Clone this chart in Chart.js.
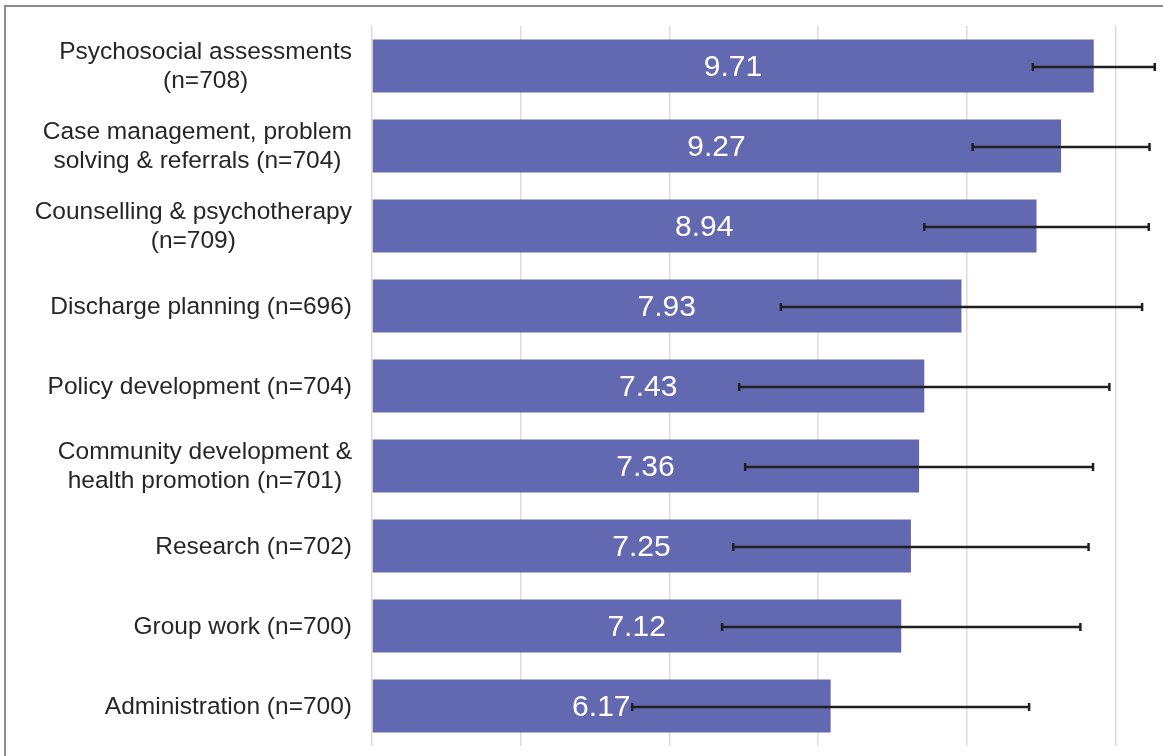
<!DOCTYPE html>
<html>
<head>
<meta charset="utf-8">
<script src="https://cdn.jsdelivr.net/npm/chart.js@4"></script>
<style>
  html, body { margin: 0; padding: 0; background: #fff; overflow: hidden; }
  body { width: 1163px; height: 756px; position: relative; }
  .frame { position: absolute; left: 4px; top: 5px; width: 1400px; height: 900px; border: 2px solid #8c8c8c; }
  .wrap { position: absolute; left: 0; top: 0; width: 1300px; height: 756px; }
</style>
</head>
<body>
<div class="frame"></div>
<div class="wrap"><canvas id="chart" width="1300" height="756"></canvas></div>
<script>
// categories (each label split into its printed lines)
const categories = [
  ["Psychosocial assessments", "(n=708)"],
  ["Case management, problem", "solving & referrals (n=704)"],
  ["Counselling & psychotherapy", "(n=709)"],
  ["Discharge planning (n=696)"],
  ["Policy development (n=704)"],
  ["Community development &", "health promotion (n=701)"],
  ["Research (n=702)"],
  ["Group work (n=700)"],
  ["Administration (n=700)"]
];
const means = [9.71, 9.27, 8.94, 7.93, 7.43, 7.36, 7.25, 7.12, 6.17];
const sds = [0.82, 1.19, 1.51, 2.43, 2.49, 2.34, 2.39, 2.41, 2.67];
const xTicks = [0, 2, 4, 6, 8, 10, 12];

const FONT = "'Liberation Sans', Arial, sans-serif";

// category labels: block right-aligned, lines centred inside the block
const labelPlugin = {
  id: "labels",
  afterDraw(chart) {
    const ctx = chart.ctx;
    const y = chart.scales.y;
    const right = 352;
    const lineH = 29;
    ctx.save();
    ctx.font = "24.5px " + FONT;
    ctx.fillStyle = "#262626";
    ctx.textAlign = "center";
    ctx.textBaseline = "middle";
    categories.forEach((lines, i) => {
      const w = Math.max(...lines.map(l => ctx.measureText(l).width));
      const cx = right - w / 2;
      const cy = y.getPixelForValue(i);
      const top = cy - (lines.length - 1) * lineH / 2;
      lines.forEach((l, j) => ctx.fillText(l, cx, top + j * lineH + 1));
    });
    ctx.restore();
  }
};

// value labels inside bars + error bars
const barPlugin = {
  id: "bars",
  afterDatasetsDraw(chart) {
    const ctx = chart.ctx;
    const x = chart.scales.x;
    const y = chart.scales.y;
    ctx.save();
    ctx.font = "30px " + FONT;
    ctx.fillStyle = "#ffffff";
    ctx.textAlign = "center";
    ctx.textBaseline = "middle";
    means.forEach((m, i) => {
      const cx = (x.getPixelForValue(0) + x.getPixelForValue(m)) / 2;
      ctx.fillText(m.toFixed(2), cx, y.getPixelForValue(i) + 2);
    });
    ctx.strokeStyle = "#1f1f1f";
    ctx.lineWidth = 2.5;
    means.forEach((m, i) => {
      const cy = y.getPixelForValue(i) + 1;
      const x1 = x.getPixelForValue(m - sds[i]);
      const x2 = x.getPixelForValue(m + sds[i]);
      ctx.beginPath();
      ctx.moveTo(x1, cy); ctx.lineTo(x2, cy);
      ctx.moveTo(x1, cy - 4); ctx.lineTo(x1, cy + 4);
      ctx.moveTo(x2, cy - 4); ctx.lineTo(x2, cy + 4);
      ctx.stroke();
    });
    ctx.restore();
  }
};

new Chart(document.getElementById("chart"), {
  type: "bar",
  data: {
    labels: categories,
    datasets: [{
      data: means,
      backgroundColor: "#6369b0",
      borderWidth: 0,
      categoryPercentage: 0.66,
      barPercentage: 1
    }]
  },
  options: {
    indexAxis: "y",
    responsive: false,
    animation: false,
    layout: { padding: { left: 372, top: 26, right: 36, bottom: 10 } },
    plugins: { legend: { display: false }, tooltip: { enabled: false } },
    scales: {
      x: {
        min: xTicks[0],
        max: xTicks[xTicks.length - 1],
        afterBuildTicks: s => { s.ticks = xTicks.map(v => ({ value: v })); },
        ticks: { display: false },
        grid: { color: "#dcdcdc", lineWidth: 1.5, drawTicks: false },
        border: { display: false },
        afterFit: s => { s.height = 0; }
      },
      y: { display: false }
    }
  },
  plugins: [labelPlugin, barPlugin]
});
</script>
</body>
</html>
